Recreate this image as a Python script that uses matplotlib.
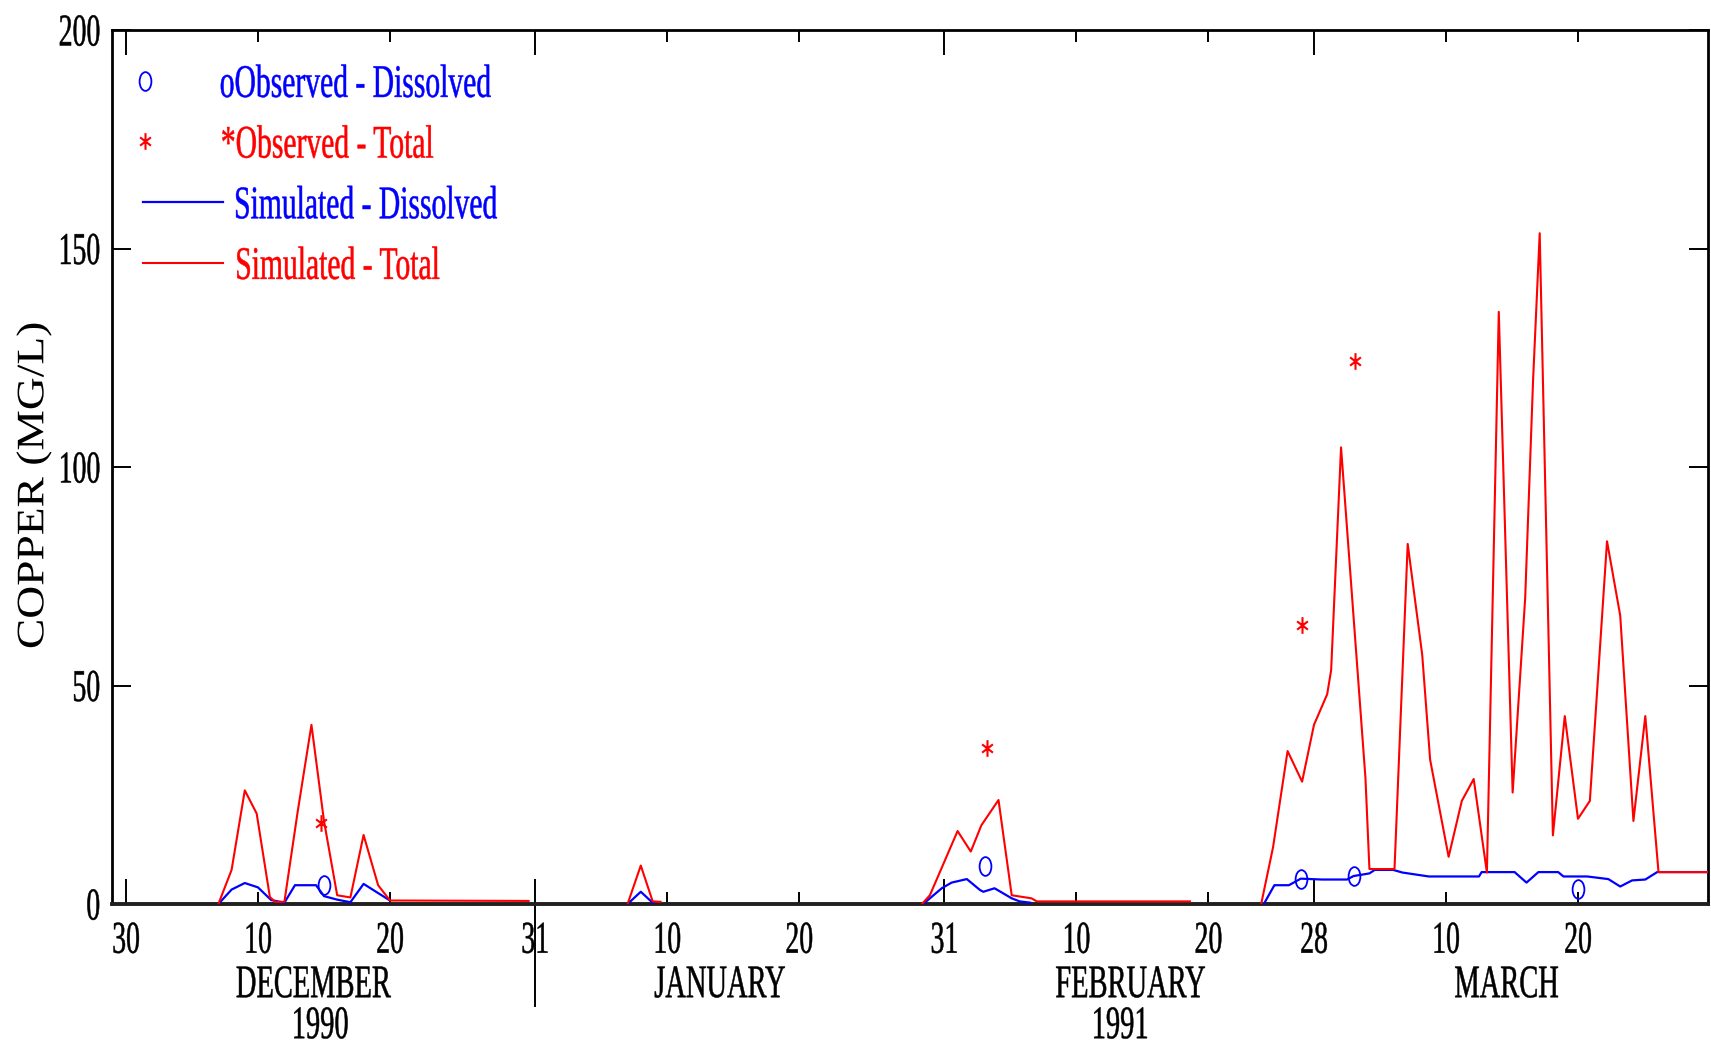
import numpy as np
import matplotlib
matplotlib.use("Agg")
import matplotlib.pyplot as plt
from matplotlib.patheffects import AbstractPathEffect
from matplotlib.transforms import Affine2D
from matplotlib.path import Path
from matplotlib.lines import Line2D
from matplotlib.legend_handler import HandlerLine2D

nan = np.nan

# ---------------- data (day 0 = 30 Nov 1990) ----------------
tot_day = [7.0, 8.0, 9.0, 9.9, 10.9, 11.3, 12.0, 13.0, 14.05, 15.0, 16.0, 17.0, 18.0, 19.1, 20.0, 30.5,
           nan,
           38.0, 39.0, 39.9, 40.5,
           nan,
           60.3, 60.9, 63.0, 64.0, 64.8, 66.1, 67.1, 68.6, 69.0, 80.6,
           nan,
           86.0, 86.9, 88.0, 89.1, 90.0, 91.0, 91.3, 92.05, 93.9, 94.2, 96.1, 97.1, 98.2, 98.8,
           100.2, 101.2, 102.1, 103.1, 104.0, 105.05, 106.0, 106.6, 107.1, 108.1, 109.0, 110.0,
           110.9, 112.2, 113.2, 114.2, 115.1, 116.1, 120.0]
tot_val = [0.0, 7.8, 26.0, 20.7, 1.6, 0.5, 0.5, 21.0, 41.0, 19.0, 2.0, 1.5, 15.8, 4.3, 0.8, 0.7,
           nan,
           0.0, 8.8, 0.6, 0.5,
           nan,
           0.0, 2.0, 16.7, 12.0, 18.0, 23.8, 2.0, 1.3, 0.6, 0.6,
           nan,
           0.0, 13.0, 35.0, 28.0, 41.0, 48.0, 53.5, 104.5, 28.8, 8.0, 8.0, 82.4, 57.0, 33.0,
           10.8, 23.6, 28.6, 7.2, 135.5, 25.5, 70.0, 120.0, 153.5, 15.7, 43.0, 19.5,
           23.6, 83.0, 66.0, 19.0, 43.0, 7.3, 7.3]

dis_day = [7.0, 8.0, 9.0, 10.0, 11.0, 12.0, 12.8, 14.4, 15.0, 16.0, 17.0, 18.0, 19.1, 20.0,
           nan,
           38.0, 39.0, 40.0,
           nan,
           60.4, 60.9, 61.8, 62.55, 63.7, 64.7, 64.95, 65.8, 67.1, 67.7, 68.5,
           nan,
           86.2, 87.0, 88.1, 89.0, 90.6, 92.5, 93.0, 94.2, 94.6, 96.0, 96.7, 98.7, 102.5, 102.7,
           105.2, 106.1, 107.0, 108.5, 108.9, 110.7, 112.3, 113.2, 114.1, 115.1, 116.0, 120.0]
dis_val = [0.0, 3.3, 4.8, 3.8, 0.9, 0.3, 4.3, 4.3, 1.8, 1.0, 0.4, 4.6, 2.5, 0.8,
           nan,
           0.0, 2.8, 0.0,
           nan,
           0.0, 1.3, 3.6, 4.9, 5.7, 3.2, 2.8, 3.6, 1.3, 0.6, 0.3,
           nan,
           0.0, 4.3, 4.3, 5.8, 5.6, 5.6, 6.4, 7.0, 7.8, 7.8, 7.2, 6.3, 6.3, 7.3,
           7.3, 4.9, 7.3, 7.3, 6.3, 6.3, 5.7, 4.0, 5.4, 5.6, 7.3, 7.3]

obs_dis_day = [15.0, 65.1, 89.0, 93.0, 110.0]
obs_dis_val = [4.3, 8.8, 5.7, 6.4, 3.5]
obs_tot_day = [14.8, 65.2, 89.1, 93.1]
obs_tot_val = [18.5, 35.6, 63.8, 124.2]

major_days = [0, 31, 62, 90]
major_labels = ["30", "31", "31", "28"]
minor_days = [10, 20, 41, 51, 72, 82, 100, 110]
minor_labels = ["10", "20", "10", "20", "10", "20", "10", "20"]
y_ticks = [0, 50, 100, 150, 200]
y_labels = ["0", "50", "100", "150", "200"]

month_names = ["DECEMBER", "JANUARY", "FEBRUARY", "MARCH"]
month_days = [14.2, 45.0, 76.1, 104.6]
year_names = ["1990", "1991"]
year_days = [14.7, 75.3]
year_divider_day = 31

series_labels = ["oObserved - Dissolved", "*Observed - Total",
                 "Simulated - Dissolved", "Simulated - Total"]

BLUE = (0, 0, 1)
RED = (1, 0, 0)


# ---------------- helpers ----------------
class Stretch(AbstractPathEffect):
    """Draw the text glyphs stretched (like the tall bitmap font of the original)."""

    def __init__(self, sx=1.0, sy=1.0, cy=33.8, dx=0.0, lw=0.0):
        super().__init__()
        self.sx, self.sy, self.cy, self.dx, self.lw = sx, sy, cy, dx, lw

    def draw_path(self, renderer, gc, tpath, affine, rgbFace=None):
        v = tpath.vertices
        cx = 0.0
        if len(v):
            if tpath.codes is not None:
                m = tpath.codes != Path.CLOSEPOLY
                vv = v[m] if m.any() else v
            else:
                vv = v
            cx = 0.5 * (vv[:, 0].min() + vv[:, 0].max())
        t = (Affine2D().translate(-cx, -self.cy).scale(self.sx, self.sy)
             .translate(cx + self.dx, self.cy))
        gc0 = renderer.new_gc()
        gc0.copy_properties(gc)
        if self.lw > 0 and rgbFace is not None:
            gc0.set_linewidth(self.lw)
            gc0.set_foreground(rgbFace)
        renderer.draw_path(gc0, tpath, t + affine, rgbFace)
        gc0.restore()


class LeftMarker(HandlerLine2D):
    def get_xdata(self, legend, xdescent, ydescent, width, height, fontsize):
        x = np.array([-xdescent, -xdescent + 3.0])
        return x, x


SY = 1.64
TLW = 0.35
plt.rcParams["font.family"] = ["Liberation Serif", "DejaVu Serif"]

fig = plt.figure(figsize=(17.11, 10.44), dpi=100, facecolor="white")
ax = fig.add_axes([112 / 1711, 140 / 1044, 1596 / 1711, 874 / 1044])

circ = Path.unit_circle()
ellipse = Path(circ.vertices * np.array([0.63, 1.0]), circ.codes)
aster = Path([(0, -1), (0, 1), (-0.65, -0.5), (0.65, 0.5), (-0.65, 0.5), (0.65, -0.5)],
             [Path.MOVETO, Path.LINETO, Path.MOVETO, Path.LINETO, Path.MOVETO, Path.LINETO])

ax.plot(dis_day, dis_val, color=BLUE, lw=1.6, zorder=3)
ax.plot(tot_day, tot_val, color=RED, lw=1.5, zorder=4)
ax.plot(obs_dis_day, obs_dis_val, ls="none", marker=ellipse, ms=13.5,
        mfc="none", mec=BLUE, mew=1.3, zorder=5)
ax.plot(obs_tot_day, obs_tot_val, ls="none", marker=aster, ms=12,
        mec=RED, mew=1.5, zorder=5)

ax.set_xlim(-1.06, 119.85)
ax.set_ylim(0, 200)

ax.set_xticks(major_days, major_labels)
ax.set_xticks(minor_days, minor_labels, minor=True)
ax.set_yticks(y_ticks, y_labels)

ax.tick_params(axis="x", which="major", direction="in", length=18, width=1.4,
               top=True, pad=17.1, labelsize=20)
ax.tick_params(axis="x", which="minor", direction="in", length=8.6, width=1.4,
               top=True, pad=17.1, labelsize=20)
ax.tick_params(axis="y", which="major", direction="in", length=14, width=1.4,
               right=True, pad=8.6, labelsize=20)

for lab in (ax.get_xticklabels() + ax.get_xticklabels(minor=True) + ax.get_yticklabels()):
    lab.set_path_effects([Stretch(sy=SY, lw=TLW)])

for sp in ax.spines.values():
    sp.set_linewidth(2.0)
    sp.set_color("black")
ax.spines["bottom"].set_linewidth(2.8)
ax.spines["bottom"].set_color("#202020")

ylab = ax.set_ylabel("COPPER (MG/L)", fontsize=28, va="center", ha="center")
ax.yaxis.set_label_coords(-0.049, 0.479)
ylab.set_path_effects([Stretch(sx=1.17)])

xt = ax.get_xaxis_transform()
for d, name in zip(month_days, month_names):
    ax.text(d, -0.0887, name, transform=xt, ha="center", va="center_baseline",
            fontsize=20.5, path_effects=[Stretch(sy=SY, lw=TLW)], clip_on=False)
for d, name in zip(year_days, year_names):
    ax.text(d, -0.1356, name, transform=xt, ha="center", va="center_baseline",
            fontsize=20.5, path_effects=[Stretch(sy=SY, lw=TLW)], clip_on=False)
ax.axvline(year_divider_day, ymin=-0.117, ymax=0.0, color="black", lw=1.4, clip_on=False)

# ---------------- legend ----------------
h1 = Line2D([], [], ls="none", marker=ellipse, ms=13.5, mfc="none", mec=BLUE, mew=1.3, color=BLUE)
h2 = Line2D([], [], ls="none", marker=aster, ms=12, mec=RED, mew=1.5, color=RED)
h3 = Line2D([], [], color=BLUE, lw=1.6)
h4 = Line2D([], [], color=RED, lw=1.5)
leg = ax.legend([h1, h2, h3, h4], series_labels, loc="upper left",
                bbox_to_anchor=(0.0194, 0.9533), borderaxespad=0, borderpad=0,
                frameon=False, fontsize=20.5, handlelength=2.81, handletextpad=0.42,
                labelspacing=1.22, numpoints=1,
                labelcolor=[BLUE, RED, BLUE, RED],
                handler_map={h1: LeftMarker(numpoints=1), h2: LeftMarker(numpoints=1)})
for i, t in enumerate(leg.get_texts()):
    t.set_path_effects([Stretch(sx=1.04, sy=SY, dx=(-35.0 if i < 2 else 15.0), lw=TLW)])

fig.savefig("out.png", dpi=100, facecolor="white")
